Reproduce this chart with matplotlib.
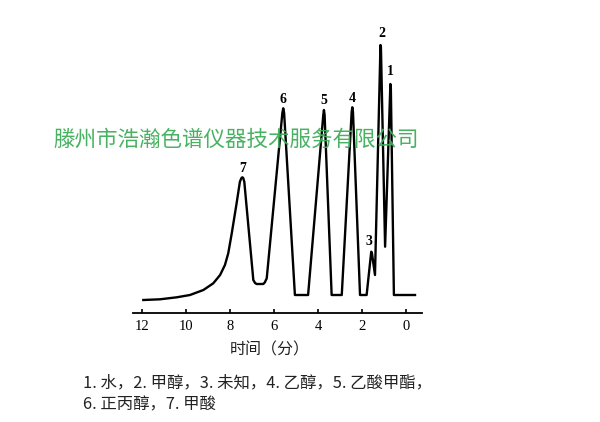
import matplotlib
matplotlib.use("Agg")
import matplotlib.pyplot as plt

# Chromatogram trace (time in minutes, signal in arbitrary units)
time_min = [11.94, 11.18, 10.42, 9.82, 9.21, 8.76, 8.45, 8.23, 8.08, 7.92, 7.70, 7.55,
            7.48, 7.44, 7.40, 7.35, 6.94, 6.86, 6.79, 6.49, 6.42, 6.33,
            5.62, 5.58, 5.54, 5.05, 4.45, 3.76, 3.73, 3.70, 3.38,
            2.92, 2.47, 2.44, 2.41, 2.09, 1.79, 1.58, 1.55, 1.41, 1.16, 1.14, 0.95,
            0.71, 0.69, 0.55, -0.41]
signal = [13.0, 13.7, 15.7, 18.0, 23.0, 29.7, 38.0, 48.0, 59.7, 79.7, 109.7, 131.3,
          135.0, 135.7, 135.0, 131.3, 33.0, 30.0, 29.0, 29.0, 30.5, 34.7,
          200, 204.7, 200, 18, 18, 198, 203, 198, 18,
          18, 201, 205.7, 201, 18, 18, 61.3, 60, 38, 268, 266, 66.3,
          229, 227, 18, 18]

# Peak labels
peak_ids = ["1", "2", "3", "4", "5", "6", "7"]
peak_label_t = [0.70, 1.10, 1.67, 2.44, 3.73, 5.58, 7.44]
peak_label_s = [241.3, 279.7, 71.3, 214.7, 213.0, 213.7, 145.0]

xticks = [12, 10, 8, 6, 4, 2, 0]
xlabel = "时间（分）"
caption1 = "1. 水，2. 甲醇，3. 未知，4. 乙醇，5. 乙酸甲酯，"
caption2 = "6. 正丙醇，7. 甲酸"
watermark = "滕州市浩瀚色谱仪器技术服务有限公司"

W, H = 600, 422
fig = plt.figure(figsize=(W / 100, H / 100), dpi=100)
fig.patch.set_facecolor("white")

ax_l, ax_r, ax_b, ax_t = 133, 422, 313, 20
ax = fig.add_axes([ax_l / W, (H - ax_b) / H, (ax_r - ax_l) / W, (ax_b - ax_t) / H])
px_per_min = 22.0
x0 = 406.0  # pixel of t=0
ax.set_xlim((x0 - ax_l) / px_per_min, (x0 - ax_r) / px_per_min)
ax.set_ylim(0, ax_b - ax_t)

ax.plot(time_min, signal, color="black", lw=1.7, solid_joinstyle="round")

for pid, t, s in zip(peak_ids, peak_label_t, peak_label_s):
    ax.text(t, s, pid, ha="center", va="center", fontsize=10, fontweight="bold",
            family="Liberation Serif", color="black")

for sp in ["top", "right", "left"]:
    ax.spines[sp].set_visible(False)
ax.spines["bottom"].set_linewidth(1.3)
ax.set_yticks([])
ax.set_xticks(xticks)
ax.set_xticklabels([str(v) for v in xticks], family="Liberation Serif", fontsize=10.5)
ax.tick_params(axis="x", direction="in", length=3, width=1.2, pad=5)

cjk = ["Noto Sans CJK SC", "DejaVu Sans"]
fig.text(270 / W, 1 - 350 / H, xlabel, ha="center", va="center", fontsize=11.5,
         family=cjk, color="#222222")
fig.text(83 / W, 1 - 383 / H, caption1, ha="left", va="center", fontsize=11.8,
         family=cjk, color="#222222")
fig.text(83 / W, 1 - 405 / H, caption2, ha="left", va="center", fontsize=11.8,
         family=cjk, color="#222222")
fig.text(53 / W, 1 - 140 / H, watermark, ha="left", va="center", fontsize=15.5,
         family=cjk, color="#3fae5a", alpha=0.95)

fig.savefig("out.png", dpi=100, facecolor="white")
